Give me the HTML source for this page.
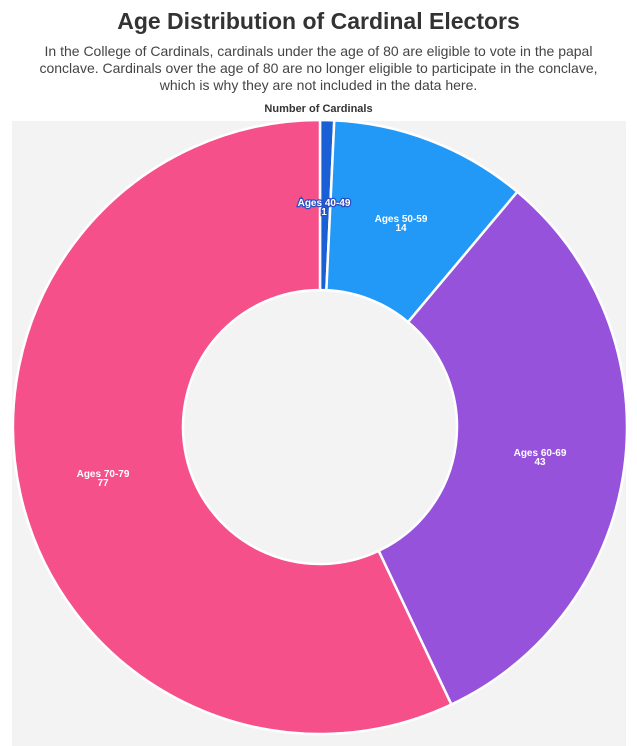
<!DOCTYPE html>
<html><head><meta charset="utf-8"><style>
body{margin:0;background:#fff;width:637px;height:746px;overflow:hidden;font-family:"Liberation Sans",sans-serif;}
.t{position:absolute;left:0;width:637px;text-align:center;color:#333;}
</style></head><body>
<div class="t" style="top:8px;font-size:23px;font-weight:bold;">Age Distribution of Cardinal Electors</div>
<div class="t" style="top:43px;font-size:14px;line-height:17px;color:#444;">In the College of Cardinals, cardinals under the age of 80 are eligible to vote in the papal<br>conclave. Cardinals over the age of 80 are no longer eligible to participate in the conclave,<br>which is why they are not included in the data here.</div>
<div class="t" style="top:103px;font-size:11px;font-weight:bold;">Number of Cardinals</div>
<svg style="position:absolute;left:0;top:0" width="637" height="746">
<rect x="12" y="121" width="614" height="625" fill="#f3f3f3"/>
<g stroke="#fff" stroke-width="2.5" stroke-linejoin="round">
<path d="M320,120 A307,307 0 0 1 334.28,120.33 L326.37,290.15 A137,137 0 0 0 320,290 Z" fill="#1a5fd6"/>
<path d="M334.28,120.33 A307,307 0 0 1 517.34,191.82 L408.06,322.05 A137,137 0 0 0 326.37,290.15 Z" fill="#2299f7"/>
<path d="M517.34,191.82 A307,307 0 0 1 451.36,704.47 L378.62,550.82 A137,137 0 0 0 408.06,322.05 Z" fill="#9652db"/>
<path d="M451.36,704.47 A307,307 0 1 1 320,120 L320,290 A137,137 0 1 0 378.62,550.82 Z" fill="#f5508a"/>
</g>
<g font-size="10" font-weight="bold" fill="#fff" text-anchor="middle">
<text x="324" y="206" stroke="#2a4fc0" stroke-width="2.5" paint-order="stroke">Ages 40-49</text>
<text x="324" y="215" stroke="#2a4fc0" stroke-width="2.5" paint-order="stroke">1</text>
<text x="401" y="222">Ages 50-59</text><text x="401" y="231">14</text>
<text x="540" y="456">Ages 60-69</text><text x="540" y="465">43</text>
<text x="103" y="477">Ages 70-79</text><text x="103" y="486">77</text>
</g>
</svg>
</body></html>
